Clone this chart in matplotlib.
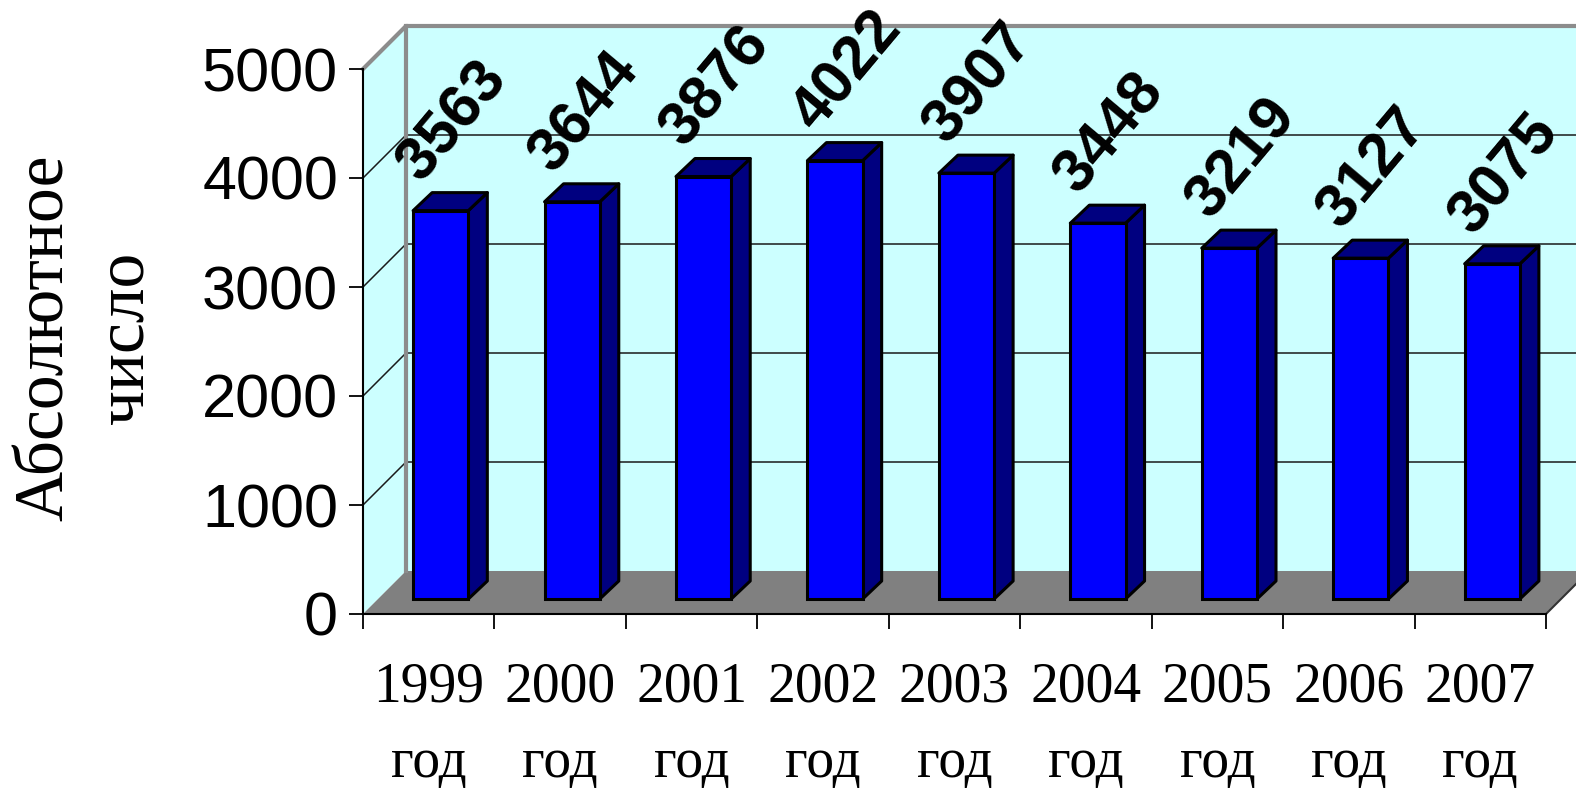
import matplotlib
matplotlib.use("Agg")
import matplotlib.pyplot as plt
from matplotlib.patches import Polygon
from matplotlib.ticker import FixedLocator

# ---------------- data ----------------
years = ["1999", "2000", "2001", "2002", "2003", "2004", "2005", "2006", "2007"]
values = [3563, 3644, 3876, 4022, 3907, 3448, 3219, 3127, 3075]
y_ticks = [0, 1000, 2000, 3000, 4000, 5000]
year_word = "год"
y_label = "Абсолютное\nчисло"

# ---------------- figure ----------------
W, H, DPI = 1576, 793, 100
fig = plt.figure(figsize=(W / DPI, H / DPI), dpi=DPI)
fig.patch.set_facecolor("white")

AX_L, AX_R, AX_B, AX_T = 363, 1546, 614, 69   # pixel frame of the front plane
ax = fig.add_axes([AX_L / W, 1 - AX_B / H, (AX_R - AX_L) / W, (AX_B - AX_T) / H])
n = len(values)
ymax = y_ticks[-1]
ax.set_xlim(0, n)
ax.set_ylim(0, ymax)
ax.patch.set_alpha(0)

kx = n / (AX_R - AX_L)        # data units per pixel (x)
ky = ymax / (AX_B - AX_T)     # data units per pixel (y)


def P(x, y, dxp=0.0, dyp=0.0):
    return (x + dxp * kx, y + dyp * ky)


D = 43  # depth of the plot box in pixels
wall_c = "#CCFFFF"
floor_c = "#808080"
edge_grey = "#8C8C8C"

# back wall
ax.add_patch(Polygon([P(0, 0, D, D), P(n, 0, D, D), P(n, ymax, D, D), P(0, ymax, D, D)],
                     closed=True, facecolor=wall_c, edgecolor="none", clip_on=False, zorder=0))
# side wall
ax.add_patch(Polygon([P(0, 0), P(0, ymax), P(0, ymax, D, D), P(0, 0, D, D)],
                     closed=True, facecolor=wall_c, edgecolor="none", clip_on=False, zorder=0))
# floor
ax.add_patch(Polygon([P(0, 0), P(n, 0), P(n, 0, D, D), P(0, 0, D, D)],
                     closed=True, facecolor=floor_c, edgecolor="none", clip_on=False, zorder=0.5))

# grid lines on side and back walls
for t in y_ticks[1:-1]:
    a, b, c = P(0, t), P(0, t, D, D), P(n, t, D, D)
    ax.plot([a[0], b[0], c[0]], [a[1], b[1], c[1]], color="#1a1a1a", lw=1.1,
            clip_on=False, zorder=1, solid_capstyle="butt")

# grey frame edges of walls
a, b, c = P(0, ymax), P(0, ymax, D, D), P(n, ymax, D, D)
ax.plot([a[0], b[0], c[0]], [a[1], b[1], c[1]], color=edge_grey, lw=3, clip_on=False, zorder=1.2)
a, b = P(0, 0, D, D), P(0, ymax, D, D)
ax.plot([a[0], b[0]], [a[1], b[1]], color=edge_grey, lw=3, clip_on=False, zorder=1.2)
# floor right edge
a, b = P(n, 0), P(n, 0, D, D)
ax.plot([a[0], b[0]], [a[1], b[1]], color="#333333", lw=1.5, clip_on=False, zorder=1.2)

# ---------------- bars ----------------
FX, FY = 12, 15      # front face offset (px)
BX, BY = 19, 18      # bar depth (px)
bw = 0.42
front_c = "#0000FF"
side_c = "#000080"
elw = 2.2

xc = [i + 0.5 for i in range(n)]
ax.bar([x + FX * kx for x in xc], values, width=bw, bottom=FY * ky,
       color=front_c, edgecolor="black", linewidth=elw, zorder=3, clip_on=False)

for x, v in zip(xc, values):
    x0, x1 = x - bw / 2, x + bw / 2
    side = [P(x1, 0, FX, FY), P(x1, 0, FX + BX, FY + BY), P(x1, v, FX + BX, FY + BY), P(x1, v, FX, FY)]
    top = [P(x0, v, FX, FY), P(x1, v, FX, FY), P(x1, v, FX + BX, FY + BY), P(x0, v, FX + BX, FY + BY)]
    for poly in (side, top):
        ax.add_patch(Polygon(poly, closed=True, facecolor=side_c, edgecolor="black",
                             linewidth=elw, joinstyle="round", zorder=2.9, clip_on=False))
    lx, ly = P(x, v, FX + BX / 2 + 3, FY + BY + 1)
    ax.text(lx, ly, f"{v}", rotation=50, ha="center", va="bottom",
            fontsize=44, fontweight="bold", family=["Liberation Sans", "DejaVu Sans"],
            zorder=5, clip_on=False)

# ---------------- axes / ticks ----------------
for s in ("top", "right"):
    ax.spines[s].set_visible(False)
ax.spines["left"].set_color("black")
ax.spines["bottom"].set_color("black")
ax.spines["left"].set_linewidth(1.5)
ax.spines["bottom"].set_linewidth(1.5)
ax.spines["left"].set_zorder(4)
ax.spines["bottom"].set_zorder(4)

ax.set_yticks(y_ticks)
ax.set_yticklabels([str(t) for t in y_ticks])
ax.tick_params(axis="y", direction="out", length=10, width=1.3, pad=8, colors="black")
for lbl in ax.get_yticklabels():
    lbl.set_family(["Liberation Sans", "DejaVu Sans"])
    lbl.set_fontsize(44)

ax.xaxis.set_major_locator(FixedLocator(list(range(n + 1))))
ax.xaxis.set_minor_locator(FixedLocator(xc))
ax.set_xticklabels([])
ax.set_xticklabels([f"{y}\n{year_word}" for y in years], minor=True)
ax.tick_params(axis="x", which="major", direction="out", length=11, width=1.3)
ax.tick_params(axis="x", which="minor", length=0, pad=34)
for lbl in ax.get_xticklabels(minor=True):
    lbl.set_family(["Liberation Serif", "DejaVu Serif"])
    lbl.set_fontsize(40)
    lbl.set_linespacing(1.6)

fig.text(86 / W, 1 - 338 / H, y_label, rotation=90, ha="center", va="center",
         multialignment="center", fontsize=50, linespacing=1.32,
         family=["Liberation Serif", "DejaVu Serif"])

fig.savefig("out.png", dpi=DPI, facecolor="white")
